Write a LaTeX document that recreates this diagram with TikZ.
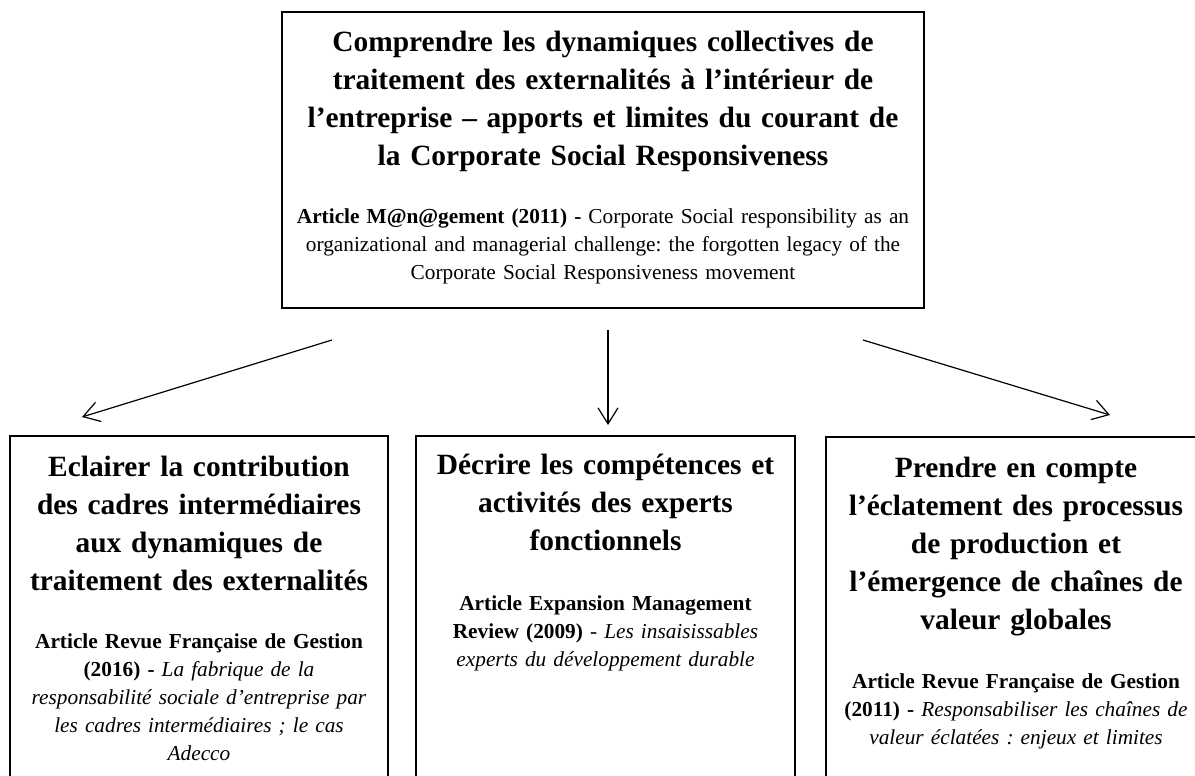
\documentclass[tikz,border=0pt]{standalone}
\usepackage{fontspec}
\setmainfont{Liberation Serif}
\frenchspacing
\usetikzlibrary{arrows.meta}
\tikzset{
  frame/.style={draw=black, line width=1.7pt},
  titletext/.style={anchor=base, align=center, text width=#1,
    font=\fontsize{29.4}{38}\selectfont\bfseries},
  reftext/.style={anchor=base, align=center, text width=#1,
    font=\fontsize{21.3}{28}\selectfont},
  link/.style={line width=1.2pt, -{Straight Barb[length=16pt,width=20pt]}},
}

\begin{document}
\begin{tikzpicture}[x=1pt,y=-1pt]
\useasboundingbox (0,0) rectangle (1195,776);
\clip (0,0) rectangle (1195,776);

% boxes
\node[frame, minimum width=642pt, minimum height=296pt] (topbox) at (603,160) {};
\node[frame, minimum width=378pt, minimum height=400pt] (leftbox) at (199,636) {};
\node[frame, minimum width=379pt, minimum height=400pt] (midbox) at (605.5,636) {};
\node[frame, minimum width=380pt, minimum height=400pt] (rightbox) at (1016,637) {};

% top
\node[titletext=630pt] (toptitle) at (603,52)
  {Comprendre les dynamiques collectives de\\
   traitement des externalités à l’intérieur de\\
   l’entreprise – apports et limites du courant de\\
   la Corporate Social Responsiveness};
\node[reftext=636pt] (topref) at (603,223)
  {\textbf{Article M@n@gement (2011) -} Corporate Social responsibility as an\\
   organizational and managerial challenge: the forgotten legacy of the\\
   Corporate Social Responsiveness movement};

% left
\node[titletext=370pt] (lefttitle) at (199,476)
  {Eclairer la contribution\\
   des cadres intermédiaires\\
   aux dynamiques de\\
   traitement des externalités};
\node[reftext=370pt] (leftref) at (199,648)
  {\textbf{Article Revue Française de Gestion}\\
   \textbf{(2016) -} \textit{La fabrique de la}\\
   \textit{responsabilité sociale d’entreprise par}\\
   \textit{les cadres intermédiaires ; le cas}\\
   \textit{Adecco}};

% middle
\node[titletext=370pt] (midtitle) at (605.5,474)
  {Décrire les compétences et\\
   activités des experts\\
   fonctionnels};
\node[reftext=370pt] (midref) at (605.5,610)
  {\textbf{Article Expansion Management}\\
   \textbf{Review (2009)} - \textit{Les insaisissables}\\
   \textit{experts du développement durable}};

% right
\node[titletext=370pt] (righttitle) at (1016,477)
  {Prendre en compte\\
   l’éclatement des processus\\
   de production et\\
   l’émergence de chaînes de\\
   valeur globales};
\node[reftext=370pt] (rightref) at (1016,688)
  {\textbf{Article Revue Française de Gestion}\\
   \textbf{(2011) -} \textit{Responsabiliser les chaînes de}\\
   \textit{valeur éclatées : enjeux et limites}};

% arrows
\coordinate (leftfrom) at (332,340);
\coordinate (leftto) at (82,417);
\coordinate (midfrom) at (608,330);
\coordinate (midto) at (608,425);
\coordinate (rightfrom) at (863,340);
\coordinate (rightto) at (1110,415);
\draw[link] (leftfrom) -- (leftto);
\draw[link] (midfrom) -- (midto);
\draw[link] (rightfrom) -- (rightto);

\end{tikzpicture}
\end{document}
